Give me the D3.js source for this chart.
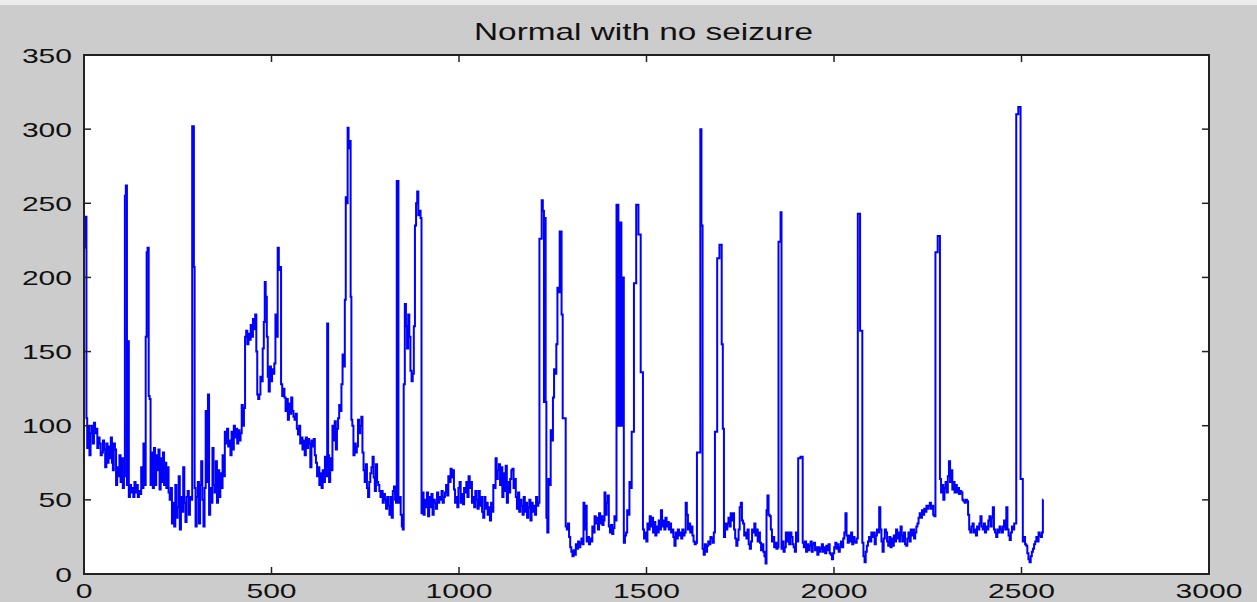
<!DOCTYPE html>
<html>
<head>
<meta charset="utf-8">
<script src="https://cdn.jsdelivr.net/npm/d3@7"></script>
<style>
  html, body { margin: 0; padding: 0; background: #cccccc; }
  svg { display: block; }
  text { font-family: "Liberation Sans", Arial, sans-serif; fill: #111; }
</style>
</head>
<body>
<svg id="chart" width="1257" height="602"></svg>
<script>
// ---- data: [sample index, amplitude] ----
const titleText = "Normal with no seizure";
const xTicks = [0, 500, 1000, 1500, 2000, 2500, 3000];
const yTicks = [0, 50, 100, 150, 200, 250, 300, 350];

const eegPart1 = [[0,220],[2,240],[4,225],[6,241],[7,105],[10,85],[13,100],[16,80],[19,95],[22,100],[25,88],[28,102],[31,95],[34,98],[37,85],[40,92],[43,88],[46,80],[49,82],[52,90],[55,84],[58,72],[61,88],[64,75],[67,86],[70,78],[73,92],[76,75],[78,70],[81,88],[84,84],[87,60],[90,72],[93,66],[96,80],[99,62],[102,78],[105,58],[108,66],[110,255],[113,262],[116,60],[118,157],[121,52],[124,60],[127,55],[130,58],[133,52],[136,62],[139,55],[142,60],[145,52],[148,56],[151,54],[154,72],[157,58],[160,88],[163,60],[166,160],[168,217],[171,220],[174,120],[176,118],[179,60],[182,82],[185,58],[188,85],[191,60],[194,80],[197,70],[200,84],[203,57],[206,78],[209,62],[212,82],[215,60],[218,75],[221,58],[224,72],[227,55],[230,50],[233,58],[236,34],[239,48],[242,32],[245,60],[248,38],[251,45],[254,66],[257,30],[260,52],[263,42],[266,72],[269,48],[272,35],[275,52],[278,56],[281,40],[284,52],[287,50],[290,302],[292,302],[294,207],[296,58],[299,32],[302,52],[305,62],[308,34],[311,60],[314,76],[317,50],[320,32],[323,58],[326,110],[329,62],[332,121],[335,40],[338,58],[341,48],[344,85],[347,60],[350,55],[353,76],[356,48],[359,70],[362,52],[365,68],[368,58],[371,80],[374,66],[377,96],[380,88],[383,98],[386,86],[389,90],[392,80],[395,96],[398,84],[401,100],[404,92],[407,98],[410,88],[413,97],[416,90],[419,95],[422,114],[425,100],[428,112],[431,160]];

const eegPart2 = [[434,164],[437,155],[440,162],[443,158],[446,168],[449,160],[452,172],[455,165],[458,175],[461,150],[463,121],[466,118],[469,121],[472,133],[475,130],[478,152],[481,170],[483,197],[486,187],[489,160],[491,133],[494,123],[497,140],[500,130],[503,138],[506,135],[509,142],[512,175],[515,160],[518,220],[521,205],[524,207],[527,128],[530,120],[533,125],[536,119],[539,110],[542,118],[545,104],[548,115],[551,108],[554,119],[557,110],[560,106],[563,104],[566,108],[569,98],[572,94],[575,100],[578,88],[581,92],[584,84],[587,90],[590,80],[593,92],[596,85],[599,91],[602,88],[605,72],[608,90],[611,86],[614,91],[617,80],[620,75],[623,66],[626,72],[629,60],[632,68],[635,58],[638,70],[641,62],[644,79],[647,66],[650,169],[652,80],[655,62],[658,78],[661,70],[664,100],[667,90],[670,103],[673,84],[676,98],[679,105],[682,114],[685,110],[688,128],[691,148],[694,140],[697,185],[699,254],[702,250],[704,301],[707,287],[710,292],[712,187],[714,104],[717,100],[720,80],[723,88],[726,82],[729,86],[732,104],[735,95],[738,100],[741,106],[744,82],[747,70],[750,62],[753,74],[756,58],[759,52],[762,62],[765,68],[768,72],[771,79],[774,65],[777,56],[780,74],[783,62],[786,60],[789,56],[792,52],[795,56],[798,48],[801,54],[804,50],[807,44],[810,52],[813,46],[816,40],[819,52],[822,38],[825,56],[828,59],[831,50],[833,48],[835,265],[837,265],[840,48],[843,52],[846,40],[849,32]];

const eegPart3 = [[851,30],[854,128],[857,182],[860,167],[863,152],[866,175],[869,160],[872,137],[875,130],[878,135],[881,167],[884,235],[887,250],[890,258],[893,242],[896,245],[899,240],[901,41],[904,55],[907,40],[910,50],[913,45],[916,55],[919,39],[922,52],[925,45],[928,54],[931,40],[934,50],[937,48],[940,44],[943,55],[946,48],[949,52],[952,50],[955,56],[958,48],[961,52],[964,55],[967,60],[970,53],[973,66],[976,62],[979,71],[982,65],[985,70],[988,57],[991,48],[994,52],[997,45],[1000,58],[1003,62],[1006,48],[1009,54],[1012,47],[1015,58],[1018,55],[1021,62],[1024,52],[1027,66],[1030,58],[1033,62],[1036,48],[1039,52],[1042,45],[1045,56],[1048,50],[1051,44],[1054,56],[1057,46],[1060,52],[1063,42],[1066,38],[1069,52],[1072,44],[1075,48],[1078,40],[1081,45],[1084,36],[1087,48],[1090,42],[1093,60],[1096,58],[1099,78],[1102,64],[1105,70],[1108,74],[1111,60],[1114,72],[1117,52],[1120,68],[1123,56],[1126,73],[1129,48],[1132,62],[1135,55],[1138,64],[1141,70],[1144,71],[1147,58],[1150,64],[1153,52],[1156,44],[1159,55],[1162,42],[1165,50],[1168,46],[1171,40],[1174,52],[1177,42],[1180,48],[1183,38],[1186,45],[1189,50],[1192,36],[1195,48],[1198,42],[1201,46],[1204,40],[1207,52],[1210,46],[1213,48],[1216,226],[1219,226],[1222,252],[1225,245],[1228,116],[1230,240],[1232,116],[1234,38],[1237,28],[1240,64],[1243,60],[1246,97],[1249,90],[1252,119],[1255,138],[1258,135],[1261,155],[1264,193],[1267,190],[1270,231],[1272,231],[1275,175],[1278,105],[1281,105]];

const eegPart4 = [[1283,105],[1286,32],[1289,30],[1292,34],[1295,25],[1298,18],[1301,15],[1304,12],[1307,16],[1310,13],[1313,20],[1316,17],[1319,22],[1322,18],[1325,21],[1328,24],[1331,20],[1333,48],[1336,30],[1339,46],[1342,22],[1345,25],[1348,20],[1351,24],[1354,22],[1357,32],[1360,28],[1363,39],[1366,34],[1369,38],[1372,30],[1375,41],[1378,34],[1381,39],[1384,33],[1387,36],[1389,55],[1392,40],[1395,48],[1398,53],[1401,32],[1404,28],[1407,33],[1410,27],[1413,31],[1416,39],[1419,36],[1421,249],[1424,249],[1426,100],[1428,237],[1430,100],[1432,237],[1434,100],[1436,200],[1438,200],[1441,21],[1444,26],[1447,28],[1450,43],[1453,40],[1456,62],[1459,58],[1462,96],[1465,96],[1468,196],[1471,196],[1474,249],[1477,249],[1480,229],[1483,229],[1486,136],[1489,136],[1492,30],[1495,24],[1498,28],[1501,22],[1504,34],[1507,30],[1510,39],[1513,32],[1516,38],[1519,28],[1522,35],[1525,26],[1528,32],[1531,28],[1534,36],[1537,30],[1540,43],[1543,32],[1546,36],[1549,30],[1552,38],[1555,32],[1558,35],[1561,30],[1564,34],[1567,28],[1570,30],[1573,25],[1576,19],[1579,28],[1582,24],[1585,30],[1588,26],[1591,28],[1594,24],[1597,30],[1600,26],[1603,28],[1606,48],[1609,40],[1612,30],[1615,34],[1618,28],[1621,32],[1624,26],[1627,22],[1630,20],[1633,21],[1636,82],[1639,82],[1642,82],[1645,300],[1648,235],[1651,17],[1654,13],[1657,20],[1660,15],[1663,19],[1666,22],[1669,20],[1672,25],[1675,24],[1678,21],[1681,28],[1684,96],[1687,96],[1690,213],[1693,213],[1696,222],[1699,222],[1702,155],[1705,98],[1708,25],[1711,34],[1714,30],[1717,34],[1720,38],[1723,32]];

const eegPart5 = [[1726,41],[1729,36],[1732,41],[1735,30],[1738,24],[1741,19],[1744,23],[1747,30],[1750,45],[1753,48],[1756,36],[1759,34],[1762,26],[1765,28],[1768,24],[1771,30],[1774,20],[1777,17],[1780,22],[1783,30],[1786,28],[1789,34],[1792,26],[1795,30],[1798,22],[1801,28],[1804,21],[1807,16],[1810,20],[1813,15],[1816,12],[1819,7],[1821,43],[1824,53],[1827,40],[1830,39],[1833,30],[1836,22],[1839,25],[1842,18],[1845,21],[1848,17],[1851,18],[1853,224],[1856,224],[1859,244],[1861,17],[1864,22],[1867,15],[1870,18],[1873,28],[1876,22],[1879,28],[1882,20],[1885,28],[1888,25],[1891,20],[1894,18],[1897,15],[1900,28],[1903,22],[1906,78],[1909,78],[1912,79],[1915,79],[1918,21],[1921,18],[1924,22],[1927,15],[1930,20],[1933,16],[1936,19],[1939,22],[1942,15],[1945,20],[1948,21],[1951,16],[1954,18],[1957,13],[1960,18],[1963,15],[1966,17],[1969,20],[1972,15],[1975,18],[1978,14],[1981,19],[1984,16],[1987,20],[1990,14],[1993,13],[1996,10],[1999,14],[2002,18],[2005,21],[2008,17],[2011,20],[2014,15],[2017,18],[2020,22],[2023,18],[2026,24],[2029,28],[2032,41],[2035,26],[2038,21],[2041,26],[2044,22],[2047,28],[2050,20],[2053,25],[2056,22],[2059,21],[2062,24],[2065,243],[2068,243],[2071,164],[2074,164],[2077,21],[2080,12],[2083,8],[2086,15],[2089,19],[2092,22],[2095,25],[2098,22],[2101,28],[2104,25],[2107,28],[2110,20],[2113,26],[2116,30],[2119,28],[2122,45],[2125,30],[2128,22],[2131,15],[2134,24],[2137,30],[2140,28],[2143,22],[2146,19],[2149,25]];

const eegPart6 = [[2152,18],[2155,24],[2158,19],[2161,26],[2164,22],[2167,30],[2170,24],[2173,28],[2176,22],[2179,32],[2182,26],[2185,22],[2188,28],[2191,20],[2194,19],[2197,24],[2200,28],[2203,22],[2206,30],[2209,26],[2212,30],[2215,24],[2218,28],[2221,32],[2224,34],[2227,38],[2230,41],[2233,38],[2236,43],[2239,40],[2242,44],[2245,42],[2248,46],[2251,44],[2254,46],[2257,48],[2260,44],[2263,46],[2266,40],[2269,39],[2272,217],[2275,217],[2278,228],[2281,228],[2284,64],[2287,55],[2290,60],[2293,50],[2296,58],[2299,62],[2302,55],[2305,66],[2308,76],[2311,62],[2314,70],[2317,57],[2320,62],[2323,55],[2326,60],[2329,55],[2332,58],[2335,54],[2338,56],[2341,55],[2344,50],[2347,49],[2350,48],[2353,50],[2356,49],[2359,40],[2362,30],[2365,28],[2368,32],[2371,34],[2374,28],[2377,30],[2380,26],[2383,32],[2386,30],[2389,34],[2392,39],[2395,32],[2398,30],[2401,34],[2404,28],[2407,32],[2410,30],[2413,36],[2416,39],[2419,32],[2422,38],[2425,45],[2428,30],[2431,28],[2434,25],[2437,30],[2440,28],[2443,32],[2446,30],[2449,28],[2452,32],[2455,36],[2458,30],[2461,45],[2464,30],[2467,26],[2470,23],[2473,28],[2476,32],[2479,30],[2482,34],[2485,34],[2487,310],[2490,310],[2493,315],[2496,315],[2499,64],[2502,64],[2505,22],[2508,25],[2511,20],[2514,19],[2517,14],[2520,10],[2523,8],[2526,12],[2529,15],[2532,17],[2535,20],[2538,22],[2541,25],[2544,22],[2547,28],[2550,26],[2553,25],[2556,28],[2558,50]];

const signal = [].concat(eegPart1, eegPart2, eegPart3, eegPart4, eegPart5, eegPart6);

// ---- layout ----
const W = 1257, H = 602;
const plot = { left: 84, right: 1209, top: 55, bottom: 574 };
const svg = d3.select("#chart");

svg.append("rect").attr("x", 0).attr("y", 0).attr("width", W).attr("height", H).attr("fill", "#cccccc");
svg.append("rect").attr("x", 0).attr("y", 0).attr("width", W).attr("height", 5).attr("fill", "#ececec");

const x = d3.scaleLinear().domain([0, 3000]).range([plot.left, plot.right]);
const y = d3.scaleLinear().domain([0, 350]).range([plot.bottom, plot.top]);

svg.append("rect")
  .attr("x", plot.left).attr("y", plot.top)
  .attr("width", plot.right - plot.left).attr("height", plot.bottom - plot.top)
  .attr("fill", "#ffffff");

svg.append("clipPath").attr("id", "clip").append("rect")
  .attr("x", plot.left).attr("y", plot.top)
  .attr("width", plot.right - plot.left).attr("height", plot.bottom - plot.top);

const line = d3.line().curve(d3.curveStep).x(d => x(d[0])).y(d => y(d[1]));
svg.append("path")
  .datum(signal)
  .attr("clip-path", "url(#clip)")
  .attr("fill", "none")
  .attr("stroke", "#0000ff")
  .attr("stroke-width", 2)
  .attr("stroke-linejoin", "miter")
  .attr("d", line);

// ticks inward on all four sides
const tickLen = 7;
const tg = svg.append("g").attr("stroke", "#222").attr("stroke-width", 1.5);
xTicks.forEach(t => {
  tg.append("line").attr("x1", x(t)).attr("x2", x(t)).attr("y1", plot.bottom).attr("y2", plot.bottom - tickLen);
  tg.append("line").attr("x1", x(t)).attr("x2", x(t)).attr("y1", plot.top).attr("y2", plot.top + tickLen);
});
yTicks.forEach(t => {
  tg.append("line").attr("x1", plot.left).attr("x2", plot.left + tickLen).attr("y1", y(t)).attr("y2", y(t));
  tg.append("line").attr("x1", plot.right).attr("x2", plot.right - tickLen).attr("y1", y(t)).attr("y2", y(t));
});

// box
svg.append("rect")
  .attr("x", plot.left).attr("y", plot.top)
  .attr("width", plot.right - plot.left).attr("height", plot.bottom - plot.top)
  .attr("fill", "none").attr("stroke", "#222").attr("stroke-width", 2);

// tick labels (horizontally stretched like the reference)
const sx = 1.43;
xTicks.forEach(t => {
  svg.append("text")
    .attr("transform", `translate(${x(t)},598) scale(${sx},1)`)
    .attr("text-anchor", "middle")
    .attr("font-size", 21)
    .text(t);
});
yTicks.forEach(t => {
  svg.append("text")
    .attr("transform", `translate(72,${y(t) + 7.5}) scale(${sx},1)`)
    .attr("text-anchor", "end")
    .attr("font-size", 21)
    .text(t);
});

svg.append("text")
  .attr("transform", `translate(${(plot.left + plot.right) / 2 - 3},40) scale(1.45,1)`)
  .attr("text-anchor", "middle")
  .attr("font-size", 23)
  .text(titleText);
</script>
</body>
</html>
